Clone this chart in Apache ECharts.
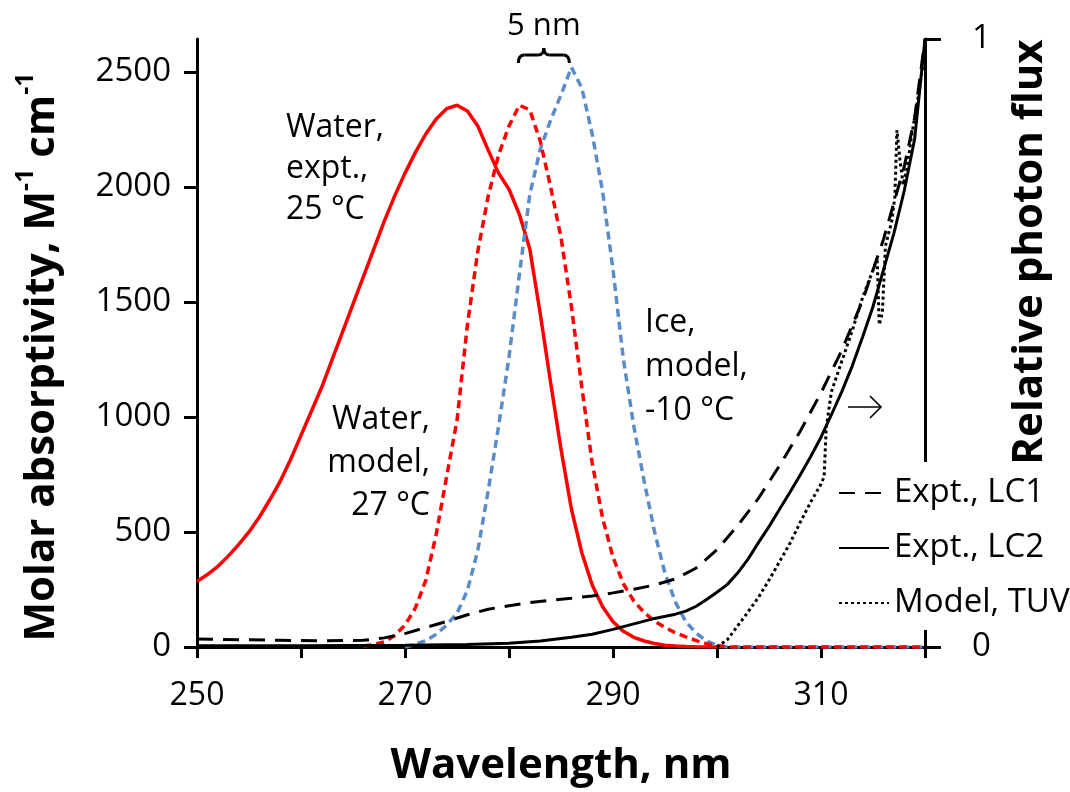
<!DOCTYPE html>
<html><head><meta charset="utf-8">
<script src="https://cdn.jsdelivr.net/npm/echarts@6/dist/echarts.min.js"></script>
<style>html,body{margin:0;padding:0;background:#fff}#c{width:1070px;height:792px}</style>
</head><body><div id="c"></div>
<script>
// ---------------- data ----------------
const xTickLabels = [250, 270, 290, 310];
const leftTicks = [0, 500, 1000, 1500, 2000, 2500];

// Water, expt., 25 °C (left axis)
const waterExptX = [250,251,252,253,254,255,256,257,258,259,260,261,262,263,264,265,266,267,268,269,270,271,272,273,274,275,276,277,278,279,280,281,282,283,284,285,286,287,288,289,290,291,292,293,294,295,296,297,298,300];
const waterExptY = [285,315,350,395,445,500,565,640,720,815,920,1025,1130,1250,1370,1490,1610,1730,1850,1960,2060,2150,2230,2295,2340,2355,2330,2265,2160,2060,1990,1880,1730,1450,1150,860,600,410,270,175,110,68,42,26,15,8,4,2,1,0];

// Water, model, 27 °C (left axis)
const waterModelX = [266,267,268,269,270,271,272,273,274,275,276,277,278,279,280,281,282,283,284,285,286,287,288,289,290,291,292,293,294,295,296,297,298,299,300,301,305,310,315,320];
const waterModelY = [4,10,22,50,95,170,290,490,740,985,1400,1720,1960,2140,2265,2355,2335,2200,2000,1780,1480,1130,800,560,390,275,200,150,112,85,62,44,28,14,5,0,0,0,0,0];

// Ice, model, -10 °C (left axis)
const iceModelX = [270,271,272,273,274,275,276,277,278,279,280,281,282,283,284,285,286,287,288,289,290,291,292,293,294,295,296,297,298,299,300,301,305,310,315,320];
const iceModelY = [0,12,28,55,95,147,246,420,680,960,1260,1620,1967,2163,2290,2400,2520,2430,2230,1980,1640,1250,960,720,500,320,195,110,60,26,8,0,0,0,0,0];

// Expt., LC1 (right axis, relative photon flux)
const lc1X = [250,254,258,262,266,268,270,272,274,276,278,280,282,284,286,288,290,292,294,296,298,300,302,304,306,308,310,312,314,316,318,319,320];
const lc1Y = [0.013,0.012,0.011,0.010,0.011,0.015,0.022,0.032,0.042,0.053,0.062,0.068,0.073,0.077,0.080,0.084,0.089,0.095,0.102,0.112,0.130,0.160,0.200,0.245,0.298,0.355,0.418,0.488,0.570,0.670,0.790,0.870,1.0];

// Expt., LC2 (right axis)
const lc2X = [250,260,270,276,280,283,286,288,290,292,294,296,297,298,299,300,301,302,303,304,305,306,307,308,309,310,311,312,313,314,315,316,317,318,319,320];
const lc2Y = [0.002,0.002,0.003,0.004,0.006,0.010,0.016,0.021,0.029,0.038,0.047,0.054,0.059,0.067,0.078,0.090,0.103,0.122,0.145,0.172,0.198,0.226,0.254,0.283,0.313,0.345,0.382,0.420,0.462,0.510,0.560,0.620,0.680,0.750,0.835,1.0];

// Model, TUV (right axis)
const tuvX = [300,301,302,303,304,305,306,307,308,309,310,310.3,310.5,311,312,313,314,315,315.4,315.6,315.9,316.2,316.8,317.1,317.3,317.6,317.9,318.3,318.7,319.3,320];
const tuvY = [0,0.012,0.035,0.058,0.082,0.110,0.140,0.170,0.205,0.238,0.268,0.280,0.360,0.420,0.470,0.520,0.575,0.620,0.640,0.530,0.550,0.660,0.700,0.740,0.850,0.800,0.760,0.790,0.840,0.900,0.980];

const zip = (xs, ys) => xs.map((x, i) => [x, ys[i]]);

// ---------------- chart ----------------
const F = '"Open Sans", "Liberation Sans", sans-serif';
const chart = echarts.init(document.getElementById('c'), null, {renderer: 'canvas'});
const RED = '#ff0000', BLUE = '#5b8cc8', BLK = '#000000';

const option = {
  animation: false,
  backgroundColor: '#ffffff',
  grid: {left: 197, right: 145, top: 39, bottom: 143, containLabel: false},
  xAxis: {
    type: 'value', min: 250, max: 320, interval: 10,
    name: 'Wavelength, nm', nameLocation: 'middle', nameGap: 98,
    nameTextStyle: {fontFamily: F, fontWeight: 'bold', fontSize: 42, color: '#000'},
    axisLine: {onZero: false, lineStyle: {color: '#000', width: 3}},
    axisTick: {show: true, inside: false, length: 11, lineStyle: {color: '#000', width: 3}},
    axisLabel: {fontFamily: F, fontSize: 32, color: '#000', margin: 33,
      formatter: v => (xTickLabels.indexOf(v) >= 0 ? String(v) : '')},
    splitLine: {show: false}
  },
  yAxis: [{
    type: 'value', min: 0, max: 2643, interval: 500, position: 'left',
    name: '{a|Molar absorptivity, M}{s|-1}{a| cm}{s|-1}',
    nameLocation: 'middle', nameGap: 134, nameRotate: 90,
    nameTextStyle: {
      fontFamily: F, fontWeight: 'bold', fontSize: 42, color: '#000',
      padding: [0, 28, 0, 0],
      rich: {
        a: {fontFamily: F, fontWeight: 'bold', fontSize: 42, color: '#000', lineHeight: 50, verticalAlign: 'bottom'},
        s: {fontFamily: F, fontWeight: 'bold', fontSize: 25, color: '#000', lineHeight: 50, verticalAlign: 'top'}
      }
    },
    axisLine: {show: true, lineStyle: {color: '#000', width: 3}},
    axisTick: {show: true, inside: false, length: 13, lineStyle: {color: '#000', width: 3}, customValues: leftTicks},
    axisLabel: {fontFamily: F, fontSize: 33, color: '#000', margin: 26, customValues: leftTicks,
      formatter: v => (leftTicks.indexOf(v) >= 0 ? String(v) : '')},
    splitLine: {show: false}
  }, {
    type: 'value', min: 0, max: 1, interval: 1, position: 'right', alignTicks: false,
    axisLine: {show: true, lineStyle: {color: '#000', width: 3}},
    axisTick: {show: true, inside: false, length: 16, lineStyle: {color: '#000', width: 3}},
    axisLabel: {fontFamily: F, fontSize: 33, color: '#000', margin: 47, align: 'left'},
    splitLine: {show: false}
  }],
  legend: {
    data: ['Expt., LC1', 'Expt., LC2', 'Model, TUV'],
    orient: 'vertical', left: 836, top: 462,
    padding: [14, 6, 10, 2], itemGap: 21, itemWidth: 50, itemHeight: 14,
    backgroundColor: '#ffffff', selectedMode: false,
    itemStyle: {opacity: 0},
    textStyle: {fontFamily: F, fontSize: 33, color: '#000', lineHeight: 34}
  },
  series: [
    {name: 'Water, expt., 25 °C', type: 'line', yAxisIndex: 0, symbol: 'none', z: 2,
     data: zip(waterExptX, waterExptY), lineStyle: {color: RED, width: 3.5}},
    {name: 'Ice, model, -10 °C', type: 'line', yAxisIndex: 0, symbol: 'none', z: 2,
     data: zip(iceModelX, iceModelY), lineStyle: {color: BLUE, width: 3.5, type: [8, 5]}},
    {name: 'Water, model, 27 °C', type: 'line', yAxisIndex: 0, symbol: 'none', z: 2,
     data: zip(waterModelX, waterModelY), lineStyle: {color: RED, width: 3.5, type: [8, 5]}},
    {name: 'Expt., LC1', type: 'line', yAxisIndex: 1, symbol: 'none', z: 3,
     data: zip(lc1X, lc1Y), itemStyle: {color: BLK}, lineStyle: {color: BLK, width: 3, type: [16, 10]}},
    {name: 'Expt., LC2', type: 'line', yAxisIndex: 1, symbol: 'none', z: 3,
     data: zip(lc2X, lc2Y), itemStyle: {color: BLK}, lineStyle: {color: BLK, width: 3}},
    {name: 'Model, TUV', type: 'line', yAxisIndex: 1, symbol: 'none', z: 3,
     data: zip(tuvX, tuvY), itemStyle: {color: BLK}, lineStyle: {color: BLK, width: 3, type: [3, 3]}}
  ]
};
chart.setOption(option);

// curly brace spanning the two model peaks (about 281 -> 286 nm)
const pL = chart.convertToPixel({xAxisIndex: 0, yAxisIndex: 0}, [280.9, 0]);
const pR = chart.convertToPixel({xAxisIndex: 0, yAxisIndex: 0}, [285.8, 0]);
const L = pL[0], R = pR[0], M = (L + R) / 2;
const yb = 63, ym = 55, yt = 48;
const bs = {stroke: '#000', lineWidth: 3, fill: null};
const brace = [
  {type: 'bezierCurve', shape: {x1: L, y1: yb, x2: L + 6, y2: ym, cpx1: L, cpy1: ym}, style: bs},
  {type: 'line', shape: {x1: L + 6, y1: ym, x2: M - 6, y2: ym}, style: bs},
  {type: 'bezierCurve', shape: {x1: M - 6, y1: ym, x2: M, y2: yt, cpx1: M, cpy1: ym}, style: bs},
  {type: 'bezierCurve', shape: {x1: M, y1: yt, x2: M + 6, y2: ym, cpx1: M, cpy1: ym}, style: bs},
  {type: 'line', shape: {x1: M + 6, y1: ym, x2: R - 6, y2: ym}, style: bs},
  {type: 'bezierCurve', shape: {x1: R - 6, y1: ym, x2: R, y2: yb, cpx1: R, cpy1: ym}, style: bs}
];

// thin arrow pointing to the right-hand axis
const as = {stroke: '#000', lineWidth: 1.6, fill: null};
const arrow = [
  {type: 'line', shape: {x1: 848, y1: 407, x2: 881, y2: 407}, style: as},
  {type: 'polyline', shape: {points: [[870, 396], [881, 407], [870, 418]]}, style: as}
];

chart.setOption({
  graphic: brace.concat(arrow, [
    {type: 'text', x: M, y: 26, style: {text: '5 nm', font: `31px ${F}`, fill: '#000', textAlign: 'center', textVerticalAlign: 'middle'}},
    {type: 'text', x: 286, y: 107, style: {text: 'Water,\nexpt.,\n25 °C', font: `32px ${F}`, fill: '#000', textAlign: 'left', textVerticalAlign: 'top', lineHeight: 41}},
    {type: 'text', x: 430, y: 398, style: {text: 'Water,\nmodel,\n27 °C', font: `32px ${F}`, fill: '#000', textAlign: 'right', textVerticalAlign: 'top', lineHeight: 43}},
    {type: 'text', x: 645, y: 301, style: {text: 'Ice,\nmodel,\n-10 °C', font: `32px ${F}`, fill: '#000', textAlign: 'left', textVerticalAlign: 'top', lineHeight: 44}},
    {type: 'text', x: 1030, y: 252, rotation: Math.PI / 2, style: {text: 'Relative photon flux', font: `bold 42px ${F}`, fill: '#000', textAlign: 'center', textVerticalAlign: 'middle'}}
  ])
});
</script></body></html>
